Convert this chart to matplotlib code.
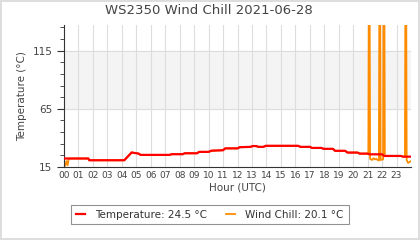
import matplotlib
matplotlib.use("Agg")
import matplotlib.pyplot as plt
from matplotlib.ticker import MultipleLocator, FixedLocator

# Temperature breakpoints (hour, °C)
temp_hours = [0.0, 1.68, 1.75, 4.17, 4.45, 4.68, 4.9, 5.14, 5.3, 7.3, 7.45, 8.2, 8.35, 9.2, 9.35, 10.0,
              10.2, 11.0, 11.15, 12.0, 12.15, 12.9, 13.05, 13.3, 13.45, 13.8, 13.95, 16.2, 16.35, 17.0,
              17.15, 17.8, 17.95, 18.6, 18.75, 19.45, 19.6, 20.3, 20.45, 21.0, 21.15, 22.0, 22.15, 23.3, 23.45, 24.0]
temp_vals = [22.3, 22.3, 20.8, 20.8, 24.5, 27.5, 27.0, 26.6, 25.4, 25.4, 26.0, 26.0, 26.8, 26.8, 28.0, 28.0,
             29.0, 29.4, 31.0, 31.0, 32.0, 32.3, 33.0, 33.0, 32.3, 32.3, 33.2, 33.2, 32.3, 32.3,
             31.4, 31.4, 30.6, 30.6, 28.9, 28.9, 27.4, 27.4, 26.5, 26.5, 25.9, 25.9, 24.5, 24.5, 23.9, 23.9]

# Wind chill (hour, °C); equals temperature except where it departs
wc_hours = [0.0, 0.08, 0.17, 0.25, 0.33, 0.4, 1.68, 1.75, 4.17, 4.45, 4.68, 4.9, 5.14, 5.3, 7.3, 7.45, 8.2,
            8.35, 9.2, 9.35, 10.0, 10.2, 11.0, 11.15, 12.0, 12.15, 12.9, 13.05, 13.3, 13.45, 13.8, 13.95,
            16.2, 16.35, 17.0, 17.15, 17.8, 17.95, 18.6, 18.75, 19.45, 19.6, 20.3, 20.45, 21.0,
            21.05, 21.09, 21.13, 21.17, 21.3, 21.4, 21.5, 21.6, 21.7, 21.78, 21.82, 21.86, 21.9,
            22.07, 22.11, 22.15, 22.19, 23.3, 23.45, 23.58, 23.62, 23.66, 23.7, 23.8, 24.0]
wc_vals = [18.0, 16.0, 20.0, 16.5, 22.3, 22.3, 22.3, 20.8, 20.8, 24.5, 27.5, 27.0, 26.6, 25.4, 25.4, 26.0, 26.0,
           26.8, 26.8, 28.0, 28.0, 29.0, 29.4, 31.0, 31.0, 32.0, 32.3, 33.0, 33.0, 32.3, 32.3, 33.2,
           33.2, 32.3, 32.3, 31.4, 31.4, 30.6, 30.6, 28.9, 28.9, 27.4, 27.4, 26.5, 26.5,
           25.9, 200.0, 200.0, 22.0, 21.0, 22.5, 21.5, 22.0, 21.0, 20.5, 200.0, 200.0, 21.0,
           21.5, 200.0, 200.0, 24.5, 24.5, 23.9, 23.9, 200.0, 200.0, 21.0, 18.5, 20.1]

hour_labels = ["%02d" % h for h in range(24)]
title = "WS2350 Wind Chill 2021-06-28"
temp_label = "Temperature: 24.5 °C"
wc_label = "Wind Chill: 20.1 °C"

plt.rcParams['font.family'] = ['DejaVu Sans']
fig = plt.figure(figsize=(4.2, 2.4), dpi=100)
fig.patch.set_facecolor("white")
fig.patch.set_edgecolor("#dddddd")
fig.patch.set_linewidth(1.5)
ax = fig.add_axes([64/420, 1 - 167/240, (411 - 64)/420, (167 - 25)/240])

ax.set_xlim(0, 24)
ax.set_ylim(15, 137)
ax.axhspan(65, 115, color="#f4f4f4", zorder=0)
for y in (65, 115):
    ax.axhline(y, color="#dddddd", lw=0.8, zorder=0.5)
for h in range(1, 24):
    ax.axvline(h, color="#dddddd", lw=0.8, zorder=0.5)

ax.plot(wc_hours, wc_vals, color="#ff8c00", lw=1.3, zorder=2, label=wc_label)
ax.plot(temp_hours, temp_vals, color="#ff0000", lw=1.6, zorder=3, label=temp_label)

ax.yaxis.set_major_locator(FixedLocator([15, 65, 115]))
ax.yaxis.set_minor_locator(MultipleLocator(10, offset=5))
ax.set_xticks(range(24))
ax.set_xticklabels(hour_labels)
ax.tick_params(axis="x", length=0, labelsize=6.5, colors="#444444", pad=3)
ax.tick_params(axis="y", which="major", length=5, labelsize=7.5, colors="#333333", labelcolor="#444444")
ax.tick_params(axis="y", which="minor", length=3, colors="#333333")
for s in ("top", "right"):
    ax.spines[s].set_visible(False)
for s in ("left", "bottom"):
    ax.spines[s].set_color("#333333")
    ax.spines[s].set_linewidth(0.8)

ax.set_xlabel("Hour (UTC)", fontsize=7.5, color="#444444", labelpad=2)
ax.set_ylabel("Temperature (°C)", fontsize=7.5, color="#444444", labelpad=4)
fig.text(0.497, 0.955, title, ha="center", va="center", fontsize=9.5, color="#444444")

h, l = ax.get_legend_handles_labels()
leg = fig.legend(h[::-1], l[::-1], loc="center", bbox_to_anchor=(0.5, 1 - 214.5/240), ncol=2,
                 fontsize=7.5, frameon=True, fancybox=False, edgecolor="#777777",
                 handlelength=0.85, columnspacing=1.8, handletextpad=1.0, borderpad=0.45)
leg.get_frame().set_linewidth(0.8)
for t in leg.get_texts():
    t.set_color("#333333")

fig.savefig("out.png", dpi=100, facecolor=fig.get_facecolor(), edgecolor=fig.get_edgecolor())
